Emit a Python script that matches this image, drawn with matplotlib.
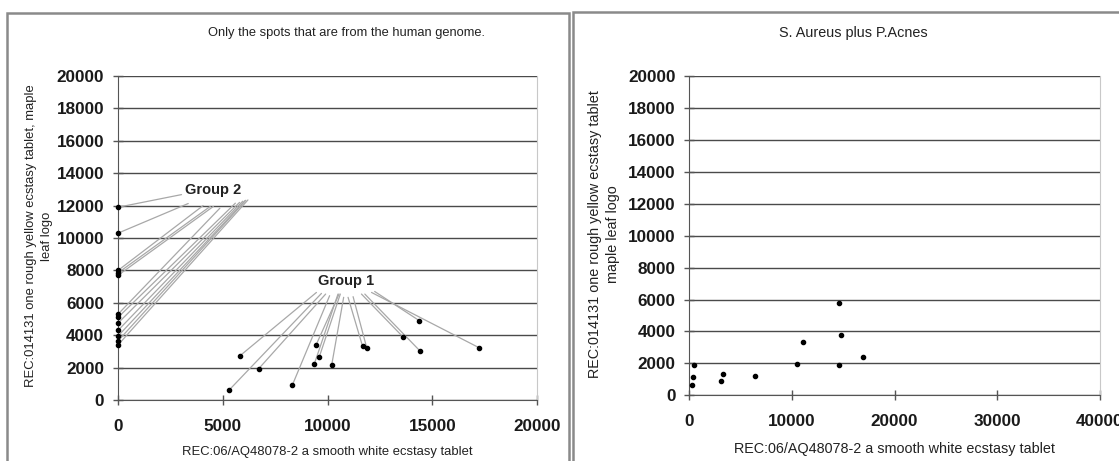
import matplotlib.pyplot as plt
from matplotlib.patches import Rectangle

plt.rcParams['font.family'] = ['Liberation Sans', 'DejaVu Sans']

# Painel da esquerda: grupo 2 (x = 0) e grupo 1
g2_x = [0, 0, 0, 0, 0, 0, 0, 0, 0, 0, 0, 0]
g2_y = [11900, 10300, 8000, 7850, 7700, 5300, 5100, 4750, 4300, 3950, 3650, 3400]
g1_x = [5300, 5810, 6720, 8320, 9370, 9450, 9610, 10200, 11670, 11870, 13620, 14390, 14420, 17230]
g1_y = [610, 2720, 1940, 920, 2230, 3390, 2680, 2170, 3330, 3230, 3870, 4890, 3020, 3230]

# pontos de partida das linhas de chamada
g2_sx = [3030, 3350, 4060, 4400, 4550, 4860, 5600, 5800, 5950, 6050, 6100, 6200]
g2_sy = [12680, 12130, 12000, 11950, 11950, 11840, 12150, 12200, 12270, 12300, 12330, 12350]
g1_sx = [9710, 9470, 9910, 10100, 10500, 10550, 10610, 10770, 10980, 11220, 11620, 12250, 11780, 12100]
g1_sy = [6580, 6640, 6540, 6440, 6540, 6540, 6540, 6340, 6340, 6380, 6540, 6700, 6540, 6640]

# Painel da direita: S. Aureus plus P.Acnes
sa_x = [270, 390, 490, 3090, 3310, 6360, 10490, 11080, 14590, 14790, 14590, 16910]
sa_y = [620, 1160, 1870, 910, 1310, 1230, 1960, 3330, 5810, 3750, 1870, 2390]

xlabel = 'REC:06/AQ48078-2 a smooth white ecstasy tablet'

fig = plt.figure(figsize=(11.19, 4.61), dpi=100)

# molduras dos dois gráficos (estilo Excel)
fig.patches.append(Rectangle((7 / 1119, -0.1), 562 / 1119, 1.1 - 13 / 461,
                             transform=fig.transFigure, fill=False,
                             edgecolor='#8a8a8a', linewidth=1.8))
fig.patches.append(Rectangle((573 / 1119, -0.1), 0.6, 1.1 - 12 / 461,
                             transform=fig.transFigure, fill=False,
                             edgecolor='#8a8a8a', linewidth=1.8))

ax1 = fig.add_axes([0.1055, 0.1323, 0.3744, 0.7028])
ax2 = fig.add_axes([0.616, 0.1425, 0.3668, 0.6926])


def estilo(ax, xmax, xstep, fs):
    ax.set_xlim(0, xmax)
    ax.set_ylim(0, 20000)
    ax.set_xticks(range(0, xmax + 1, xstep))
    ax.set_yticks(range(0, 20001, 2000))
    ax.yaxis.grid(True, color='#4a4a4a', linewidth=1.0)
    ax.set_axisbelow(True)
    ax.spines['top'].set_visible(False)
    ax.spines['right'].set_color('#c8c8c8')
    ax.spines['left'].set_color('#555555')
    ax.spines['bottom'].set_color('#555555')
    ax.tick_params(direction='inout', length=7, width=1, colors='#555555',
                   labelcolor='#1a1a1a', labelsize=12.3)
    ax.tick_params(axis='y', pad=6.5)
    ax.tick_params(axis='x', pad=10)
    for lab in ax.get_xticklabels() + ax.get_yticklabels():
        lab.set_fontweight('bold')
    ax.set_xlabel(xlabel, fontsize=fs, color='#222222', labelpad=9)


estilo(ax1, 20000, 5000, 9.4)
estilo(ax2, 40000, 10000, 10.4)

# linhas de chamada
for x, y, sx, sy in zip(g2_x, g2_y, g2_sx, g2_sy):
    ax1.annotate('', xy=(x, y), xytext=(sx, sy),
                 arrowprops=dict(arrowstyle='-', color='#a8a8a8', lw=0.9,
                                 shrinkA=0, shrinkB=0))
for x, y, sx, sy in zip(g1_x, g1_y, g1_sx, g1_sy):
    ax1.annotate('', xy=(x, y), xytext=(sx, sy),
                 arrowprops=dict(arrowstyle='-', color='#a8a8a8', lw=0.9,
                                 shrinkA=0, shrinkB=0))

ax1.plot(g2_x, g2_y, 'o', color='black', markersize=3, clip_on=False, zorder=5)
ax1.plot(g1_x, g1_y, 'o', color='black', markersize=3, zorder=5)
ax2.plot(sa_x, sa_y, 'o', color='black', markersize=3, clip_on=False, zorder=5)

ax1.text(4520, 12940, 'Group 2', fontsize=10.5, fontweight='bold',
         color='#222222', ha='center', va='center')
ax1.text(10900, 7320, 'Group 1', fontsize=10.5, fontweight='bold',
         color='#222222', ha='center', va='center')

ax1.set_ylabel('REC:014131 one rough yellow ecstasy tablet, maple\nleaf logo',
               fontsize=9.4, color='#222222', linespacing=1.4)
ax2.set_ylabel('REC:014131 one rough yellow ecstasy tablet\nmaple leaf logo',
               fontsize=10.4, color='#222222', linespacing=1.3)
ax1.yaxis.set_label_coords(-0.188, 0.506)
ax2.yaxis.set_label_coords(-0.208, 0.505)
ax1.yaxis.label.set_va('center')
ax2.yaxis.label.set_va('center')

fig.text(347 / 1119, 1 - 33 / 461, 'Only the spots that are from the human genome.',
         fontsize=9.3, color='#222222', ha='center', va='center')
fig.text(853 / 1119, 1 - 33 / 461, 'S. Aureus plus P.Acnes',
         fontsize=10.4, color='#222222', ha='center', va='center')

fig.savefig('out.png', dpi=100)
